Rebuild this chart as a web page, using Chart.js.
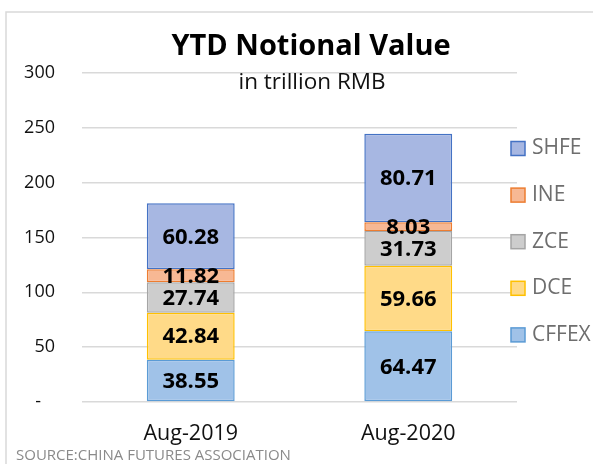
<!DOCTYPE html>
<html>
<head>
<meta charset="utf-8">
<script src="https://cdn.jsdelivr.net/npm/chart.js@4/dist/chart.umd.min.js"></script>
<style>
  html, body { margin: 0; padding: 0; background: #fff; }
  #wrap { width: 593px; height: 464px; position: relative; }
</style>
</head>
<body>
<div id="wrap"><canvas id="c" width="593" height="464"></canvas></div>
<script>
const categories = ['Aug-2019', 'Aug-2020'];
const seriesNames = ['CFFEX', 'DCE', 'ZCE', 'INE', 'SHFE'];
const cffex = [38.55, 64.47];
const dce = [42.84, 59.66];
const zce = [27.74, 31.73];
const ine = [11.82, 8.03];
const shfe = [60.28, 80.71];
const yTicks = [0, 50, 100, 150, 200, 250, 300];
const titleText = 'YTD Notional Value';
const subtitleText = 'in trillion RMB';
const sourceText = 'SOURCE:CHINA FUTURES ASSOCIATION';

const fills = ['#a0c2e8', '#ffda88', '#cdcdcd', '#f7b894', '#a7b7e2'];
const borders = ['#5b9bd5', '#ffc000', '#a5a5a5', '#ed7d31', '#4472c4'];
const FONT = '"Open Sans", Lato, sans-serif';

const values = [cffex, dce, zce, ine, shfe];
const datasets = seriesNames.map((n, i) => ({
  label: n,
  data: values[i],
  backgroundColor: fills[i],
  borderColor: borders[i],
  borderWidth: 1.5,
  borderSkipped: false,
  categoryPercentage: 1,
  barPercentage: 0.404
}));

const decor = {
  id: 'decor',
  beforeDraw(chart) {
    const ctx = chart.ctx;
    ctx.save();
    ctx.strokeStyle = '#d9d9d9';
    ctx.lineWidth = 1.5;
    ctx.beginPath();
    ctx.moveTo(6, 470);
    ctx.lineTo(6, 12);
    ctx.lineTo(600, 12);
    ctx.stroke();
    ctx.restore();
  },
  afterDatasetsDraw(chart) {
    const ctx = chart.ctx;
    ctx.save();
    ctx.font = 'bold 22px ' + FONT;
    ctx.fillStyle = '#000';
    ctx.textAlign = 'center';
    ctx.textBaseline = 'middle';
    chart.data.datasets.forEach((ds, di) => {
      const meta = chart.getDatasetMeta(di);
      meta.data.forEach((el, i) => {
        const y = (el.y + el.base) / 2;
        ctx.fillText(ds.data[i].toFixed(2), el.x, y + 1);
      });
    });
    ctx.restore();
  },
  afterDraw(chart) {
    const ctx = chart.ctx;
    ctx.save();
    ctx.textAlign = 'center';
    ctx.textBaseline = 'middle';
    ctx.fillStyle = '#000';
    ctx.font = 'bold 29px ' + FONT;
    ctx.fillText(titleText, 311, 47);
    ctx.font = '22.5px ' + FONT;
    ctx.fillStyle = '#111';
    ctx.fillText(subtitleText, 312, 83);

    // legend (reverse order)
    const ds = chart.data.datasets;
    const n = ds.length;
    ctx.textAlign = 'left';
    ctx.font = '21px ' + FONT;
    for (let k = 0; k < n; k++) {
      const d = ds[n - 1 - k];
      const cy = 148.5 + k * 46.6;
      ctx.fillStyle = d.backgroundColor;
      ctx.fillRect(511, cy - 7, 14, 14);
      ctx.strokeStyle = d.borderColor;
      ctx.lineWidth = 1.5;
      ctx.strokeRect(511, cy - 7, 14, 14);
      ctx.fillStyle = '#6e6e6e';
      ctx.fillText(d.label, 532, cy);
    }

    ctx.font = '15px ' + FONT;
    ctx.fillStyle = '#8a8a8a';
    ctx.textAlign = 'left';
    ctx.fillText(sourceText, 16, 456);
    ctx.restore();
  }
};

new Chart(document.getElementById('c'), {
  type: 'bar',
  data: { labels: categories, datasets },
  options: {
    responsive: false,
    animation: false,
    devicePixelRatio: 1,
    layout: { padding: { left: 0, top: 73, right: 76, bottom: 0 } },
    plugins: { legend: { display: false }, title: { display: false }, tooltip: { enabled: false } },
    scales: {
      x: {
        stacked: true,
        grid: { display: false, drawTicks: false },
        border: { display: false },
        ticks: { color: '#111', font: { family: FONT, size: 21.5 }, padding: 19, maxRotation: 0 },
        afterFit(s) { s.height = 62; }
      },
      y: {
        stacked: true,
        min: 0, max: 300,
        afterBuildTicks(s) { s.ticks = yTicks.map(v => ({ value: v })); },
        grid: { color: '#d9d9d9', lineWidth: 1.5, drawTicks: false },
        border: { display: false },
        ticks: {
          color: '#111',
          font: { family: FONT, size: 18 },
          padding: 27,
          callback: v => v === 0 ? '-   ' : String(v)
        },
        afterFit(s) { s.width = 82; }
      }
    }
  },
  plugins: [decor]
});
</script>
</body>
</html>
